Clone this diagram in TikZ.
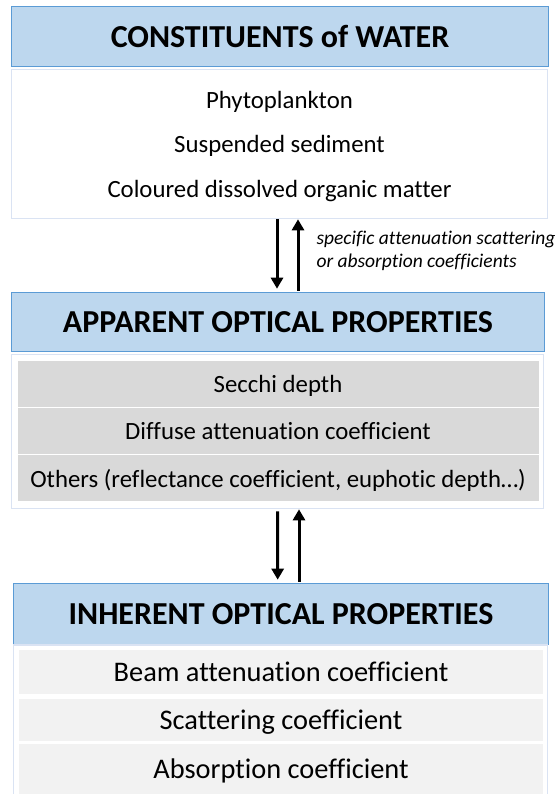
\documentclass[tikz,border=0pt]{standalone}
\usepackage{fontspec}
\setmainfont{Carlito}[Ligatures=NoCommon]
\usetikzlibrary{arrows.meta}
\definecolor{headblue}{HTML}{BDD7EE}
\definecolor{headedge}{HTML}{5B9BD5}
\definecolor{bodyedge}{HTML}{DAE3F3}
\definecolor{rowgray}{HTML}{D9D9D9}
\definecolor{rowlight}{HTML}{F2F2F2}
\tikzset{>={Triangle[width=12pt,length=11pt]}}
\tikzstyle{headbox} = [rectangle, fill=headblue, draw=headedge, line width=1.6pt, inner sep=0pt, font=\bfseries\fontsize{32}{36}\selectfont]
\tikzstyle{bodybox} = [rectangle, fill=white, draw=bodyedge, line width=1.6pt, inner sep=0pt]
\tikzstyle{greyrow} = [rectangle, fill=rowgray, draw=white, line width=0.8pt, minimum width=522pt, minimum height=47pt, inner sep=0pt, text depth=0pt, font=\fontsize{24.8}{28}\selectfont]
\tikzstyle{lightrow} = [rectangle, fill=rowlight, minimum width=524pt, inner sep=0pt, text depth=0pt, font=\fontsize{28.4}{32}\selectfont]
\tikzstyle{flow} = [->, line width=3pt]

\begin{document}
\begin{tikzpicture}[x=1pt, y=-1pt]
\useasboundingbox (0,0) rectangle (555,794);
\clip (0,0) rectangle (555,794);
% constituents
\node [headbox, minimum width=537pt, minimum height=60pt] (H1) at (280, 36.5) {CONSTITUENTS of WATER};
\node [bodybox, minimum width=536pt, minimum height=149pt, align=center, text depth=0pt, font=\fontsize{24.8}{44.5}\selectfont] (B1) at (279.5, 144) {Phytoplankton\\Suspended sediment\\Coloured dissolved organic matter};
% apparent
\node [headbox, minimum width=533pt, minimum height=59pt] (H2) at (278, 322) {APPARENT OPTICAL PROPERTIES};
\node [bodybox, minimum width=532pt, minimum height=154pt] (B2) at (277.5, 431.5) {};
\node [greyrow] (secchi) at (278, 384) {Secchi depth};
\node [greyrow] (diffuse) at (278, 431) {Diffuse attenuation coefficient};
\node [greyrow] (others) at (278, 478) {Others (reflectance coefficient, euphotic depth…)};
% inherent
\node [headbox, minimum width=535pt, minimum height=61pt] (H3) at (281, 614) {INHERENT OPTICAL PROPERTIES};
\node [bodybox, minimum width=534pt, minimum height=160pt] (B3) at (280.5, 725) {};
\node [lightrow, minimum height=44pt] (beam) at (281, 672) {Beam attenuation coefficient};
\node [lightrow, minimum height=42pt] (scat) at (281, 720) {Scattering coefficient};
\node [lightrow, minimum height=50pt] (absorb) at (281, 769) {Absorption coefficient};
% arrows
\draw [flow, shorten >=3pt] ([xshift=-2.5pt]B1.south) -- ([xshift=-1pt]H2.north);
\draw [flow, shorten <=1pt] ([xshift=20pt]H2.north) -- node[pos=0.57, right, xshift=15pt, inner sep=2pt, align=left, font=\itshape\fontsize{19.5}{23}\selectfont] (coef) {specific attenuation scattering\\or absorption coefficients} ([xshift=18.5pt]B1.south);
\draw [flow, shorten <=2pt, shorten >=3pt] (B2.south) -- ([xshift=-3.3pt]H3.north);
\draw [flow, shorten <=1pt] ([xshift=18pt]H3.north) -- ([xshift=21.5pt]B2.south);
\end{tikzpicture}
\end{document}
